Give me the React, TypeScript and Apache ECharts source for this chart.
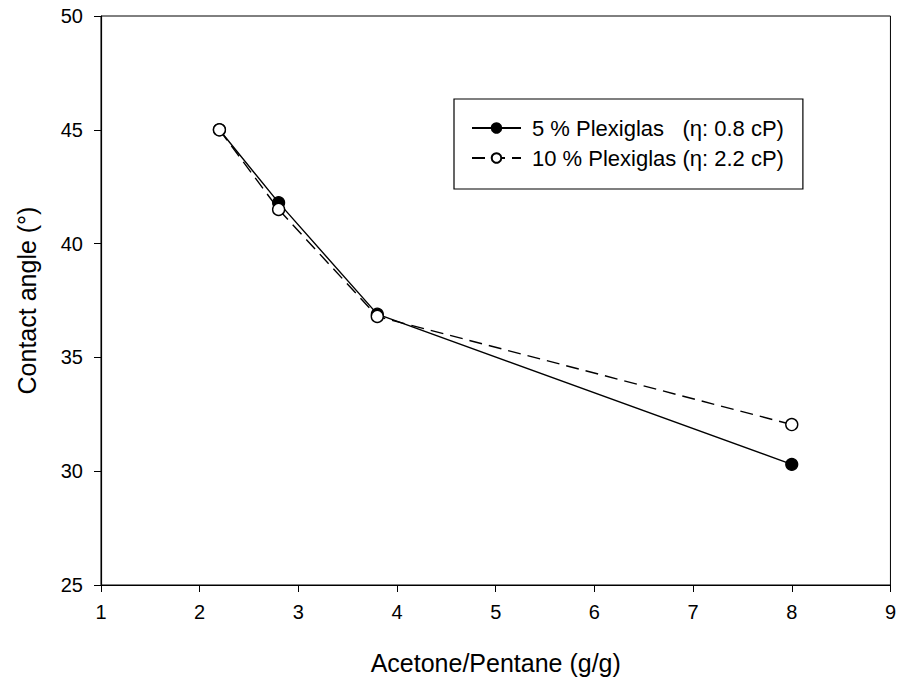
import React, { useEffect, useRef } from "react";
import * as echarts from "echarts";

const xValues = [2.2, 2.8, 3.8, 8.0];
const series5 = [45.0, 41.8, 36.9, 30.3];
const series10 = [45.0, 41.5, 36.8, 32.05];
const seriesNames = ["5 % Plexiglas   (η: 0.8 cP)", "10 % Plexiglas (η: 2.2 cP)"];
const xTitle = "Acetone/Pentane (g/g)";
const yTitle = "Contact angle (°)";

export default function App() {
  const ref = useRef<HTMLDivElement>(null);
  useEffect(() => {
    const chart = echarts.init(ref.current!, null, { renderer: "svg" });
    const font = "'Liberation Sans', Arial, sans-serif";
    chart.setOption({
      animation: false,
      backgroundColor: "#fff",
      textStyle: { fontFamily: font, color: "#000" },
      grid: { left: 101, top: 16, right: 4, bottom: 96, show: true, borderColor: "#000", borderWidth: 1 },
      legend: {
        orient: "vertical",
        left: 454,
        top: 99,
        padding: [18, 19, 20, 17],
        itemGap: 8,
        itemWidth: 49,
        itemHeight: 12,
        borderColor: "#000",
        borderWidth: 1.2,
        textStyle: { fontFamily: font, fontSize: 22, color: "#000", padding: [0, 0, 0, 6] },
        data: seriesNames,
      },
      xAxis: {
        type: "value",
        min: 1,
        max: 9,
        interval: 1,
        name: xTitle,
        nameLocation: "middle",
        nameGap: 65,
        nameTextStyle: { fontSize: 25, color: "#000", fontFamily: font },
        axisLine: { show: true, onZero: false, lineStyle: { color: "#000", width: 1.2 } },
        axisTick: { show: true, inside: false, length: 7, lineStyle: { color: "#000" } },
        axisLabel: { fontSize: 20, color: "#000", margin: 17, fontFamily: font },
        splitLine: { show: false },
      },
      yAxis: {
        type: "value",
        min: 25,
        max: 50,
        interval: 5,
        name: yTitle,
        nameLocation: "middle",
        nameGap: 62,
        nameTextStyle: { fontSize: 25, color: "#000", fontFamily: font },
        axisLine: { show: true, onZero: false, lineStyle: { color: "#000", width: 1.2 } },
        axisTick: { show: true, inside: false, length: 7, lineStyle: { color: "#000" } },
        axisLabel: { fontSize: 20, color: "#000", margin: 18, fontFamily: font },
        splitLine: { show: false },
      },
      series: [
        {
          name: seriesNames[0],
          type: "line",
          data: xValues.map((x, i) => [x, series5[i]]),
          symbol: "circle",
          symbolSize: 12,
          z: 3,
          lineStyle: { color: "#000", width: 1.4, type: "solid" },
          itemStyle: { color: "#000", borderColor: "#000", borderWidth: 1.2 },
        },
        {
          name: seriesNames[1],
          type: "line",
          data: xValues.map((x, i) => [x, series10[i]]),
          symbol: "circle",
          symbolSize: 12,
          z: 4,
          lineStyle: { color: "#000", width: 1.4, type: [13, 7] },
          itemStyle: { color: "#fff", borderColor: "#000", borderWidth: 1.4 },
        },
      ],
    });
    return () => chart.dispose();
  }, []);
  return (
    <div
      ref={ref}
      style={{ position: "fixed", left: 0, top: 0, width: 899, height: 681 }}
    />
  );
}
